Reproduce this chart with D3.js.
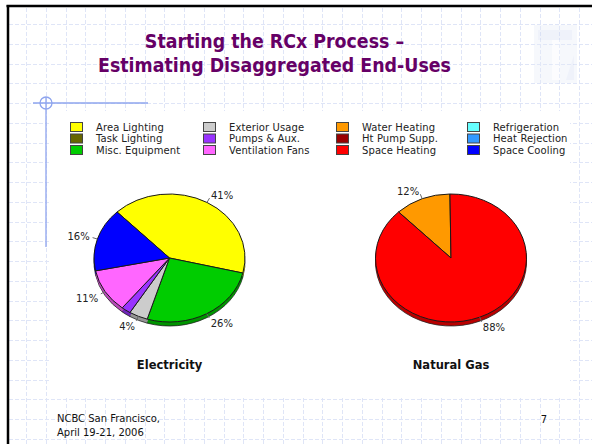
<!DOCTYPE html>
<html><head><meta charset="utf-8">
<script src="https://cdn.jsdelivr.net/npm/d3@7"></script>
<style>
html,body{margin:0;padding:0;background:#fff;overflow:hidden}
svg{display:block}
</style></head>
<body>
<script>
// ---- data ----
const titleLines = ["Starting the RCx Process \u2013", "Estimating Disaggregated End-Uses"];
const legendCats = ["Area Lighting","Task Lighting","Misc. Equipment",
  "Exterior Usage","Pumps & Aux.","Ventilation Fans",
  "Water Heating","Ht Pump Supp.","Space Heating",
  "Refrigeration","Heat Rejection","Space Cooling"];
const legendColors = ["#ffff00","#666600","#00cc00",
  "#cccccc","#9933ff","#ff66ff",
  "#ff9900","#990000","#ff0000",
  "#66ffff","#3399ff","#0000ff"];
const elecCats = ["Area Lighting","Misc. Equipment","Exterior Usage","Pumps & Aux.","Ventilation Fans","Space Cooling"];
const elecValues = [41, 26, 4, 2, 11, 16];
const gasCats = ["Water Heating","Space Heating"];
const gasValues = [12, 88];
const pieTitles = ["Electricity", "Natural Gas"];
const footerLines = ["NCBC San Francisco,", "April 19-21, 2006"];
const pageNumber = "7";

const W = 592, H = 444;
const svg = d3.select("body").append("svg").attr("width", W).attr("height", H);
const color = d3.scaleOrdinal().domain(legendCats).range(legendColors);

// background grid
const gridG = svg.append("g").attr("stroke", "#dfe5f7").attr("stroke-width", 1).attr("stroke-dasharray", "4,2");
const gx = d3.range(6.25 + 19.75, W, 19.75), gy = d3.range(4.25 + 19.75, H, 19.75);
gridG.selectAll("line.v").data(gx).join("line").attr("x1", d => Math.round(d) + 0.5).attr("x2", d => Math.round(d) + 0.5).attr("y1", 8).attr("y2", H);
gridG.selectAll("line.h").data(gy).join("line").attr("y1", d => Math.round(d) + 0.5).attr("y2", d => Math.round(d) + 0.5).attr("x1", 9).attr("x2", W);

// chart image white area
svg.append("rect").attr("x", 50).attr("y", 111).attr("width", 520).attr("height", 285).attr("fill", "#fff");

// slide border
svg.append("rect").attr("x", 0).attr("y", 0).attr("width", W).attr("height", 5).attr("fill", "#fff");
svg.append("rect").attr("x", 0).attr("y", 0).attr("width", 6.5).attr("height", H).attr("fill", "#fff");
svg.append("line").attr("x1", 6.5).attr("x2", W).attr("y1", 6).attr("y2", 6).attr("stroke", "#000").attr("stroke-width", 2.5);
svg.append("line").attr("x1", 8).attr("x2", 8).attr("y1", 5).attr("y2", H).attr("stroke", "#000").attr("stroke-width", 2.5);

// logo (faded)
const logo = svg.append("g").attr("opacity", 0.35);
logo.append("rect").attr("x", 534).attr("y", 25).attr("width", 43).attr("height", 58).attr("fill", "#e6ecf8");
logo.append("rect").attr("x", 538).attr("y", 30).attr("width", 34).attr("height", 10).attr("fill", "#d2dcf3");
logo.append("rect").attr("x", 552).attr("y", 40).attr("width", 8).attr("height", 40).attr("fill", "#f7f9fe");
logo.append("path").attr("d", "M566,80 L574,55 L574,80 Z").attr("fill", "#d2dcf3");

// blue decoration
const deco = svg.append("g").attr("stroke", "#8ea4ee").attr("stroke-width", 1.3).attr("fill", "none");
deco.append("line").attr("x1", 33).attr("x2", 148).attr("y1", 103).attr("y2", 103);
deco.append("line").attr("x1", 46).attr("x2", 46).attr("y1", 97).attr("y2", 247);
deco.append("circle").attr("cx", 46).attr("cy", 103).attr("r", 6);

// title
function fitWidth(sel, target) {
  const w = sel.node().getComputedTextLength();
  const fs = parseFloat(sel.attr("font-size"));
  sel.attr("font-size", (fs * target / w).toFixed(2));
}
const title = svg.append("g").attr("fill", "#660066").attr("font-weight", "bold")
  .attr("font-family", "'DejaVu Sans Condensed','DejaVu Sans',sans-serif").style("font-stretch", "condensed")
  .attr("text-anchor", "middle");
const t2 = title.append("text").attr("x", 274.5).attr("y", 72).attr("font-size", 20).text(titleLines[1]);
fitWidth(t2, 353);
title.append("text").attr("x", 274.5).attr("y", 48).attr("font-size", t2.attr("font-size")).text(titleLines[0]);

// legend
const legG = svg.append("g").attr("font-family", "'DejaVu Sans',sans-serif").attr("font-size", 10).attr("fill", "#222");
const colX = [70, 203, 336, 467], rowY = [122, 133.5, 145];
legendCats.forEach((c, i) => {
  const col = Math.floor(i / 3), row = i % 3;
  legG.append("rect").attr("x", colX[col] + 0.5).attr("y", rowY[row] + 0.5).attr("width", 12).attr("height", 9)
    .attr("fill", color(c)).attr("stroke", "#444").attr("stroke-width", 1);
  legG.append("text").attr("x", colX[col] + 26).attr("y", rowY[row] + 8.5).style("letter-spacing", "0.1px").text(c);
});

// pies
const rx = 75.5, ry = 64, depth = 4;
const deg = Math.PI / 180;
const pie = d3.pie().sort(null).value(d => d.v).startAngle(-44 * deg).endAngle(316 * deg);
const arc = d3.arc().innerRadius(0).outerRadius(rx);

function drawPie(cats, vals, cx, cy, titleText) {
  const arcs = pie(vals.map((v, i) => ({ cat: cats[i], v })));
  const total = d3.sum(vals);
  const g = svg.append("g").attr("transform", `translate(${cx},${cy})`);
  const side = g.append("g").attr("transform", `translate(0,${depth}) scale(1,${ry / rx})`);
  side.selectAll("path").data(arcs).join("path").attr("d", arc)
    .attr("fill", d => d3.color(color(d.data.cat)).darker(0.9))
    .attr("stroke", "#222").attr("stroke-width", 0.8).attr("vector-effect", "non-scaling-stroke");
  const mid = g.append("g");
  for (let k = 1; k < depth; k++) {
    mid.append("g").attr("transform", `translate(0,${k}) scale(1,${ry / rx})`)
      .selectAll("path").data(arcs).join("path").attr("d", arc)
      .attr("fill", d => d3.color(color(d.data.cat)).darker(0.9));
  }
  const top = g.append("g").attr("transform", `scale(1,${ry / rx})`);
  top.selectAll("path").data(arcs).join("path").attr("d", arc)
    .attr("fill", d => color(d.data.cat))
    .attr("stroke", "#1a1a1a").attr("stroke-width", 1).attr("vector-effect", "non-scaling-stroke");
  const lab = g.append("g").attr("font-family", "'DejaVu Sans',sans-serif").attr("font-size", 10).attr("fill", "#222");
  arcs.filter(d => d.data.v / total >= 0.03).forEach(d => {
    const m = (d.startAngle + d.endAngle) / 2;
    const s = Math.sin(m), c = Math.cos(m);
    lab.append("line").attr("x1", rx * s).attr("y1", -ry * c).attr("x2", (rx + 5) * s).attr("y2", -(ry + 5) * c)
      .attr("stroke", "#666").attr("stroke-width", 1);
    lab.append("text").attr("x", (rx + 8) * s).attr("y", -(ry + 8) * c + (c < 0 ? 3 : 0)).attr("dy", "0.35em")
      .attr("text-anchor", s >= 0 ? "start" : "end")
      .text(Math.round(d.data.v / total * 100) + "%");
  });
  svg.append("text").attr("x", cx).attr("y", 369).attr("text-anchor", "middle")
    .attr("font-family", "'DejaVu Sans',sans-serif").attr("font-weight", "bold").attr("font-size", 11.5)
    .attr("fill", "#111").text(titleText);
}
drawPie(elecCats, elecValues, 169.5, 258, pieTitles[0]);
drawPie(gasCats, gasValues, 451, 258, pieTitles[1]);

// footer
const foot = svg.append("g").attr("font-family", "'DejaVu Sans Condensed','DejaVu Sans',sans-serif")
  .style("font-stretch", "condensed").attr("fill", "#111");
const f1 = foot.append("text").attr("x", 57).attr("y", 422).attr("font-size", 11).text(footerLines[0]);
fitWidth(f1, 103);
foot.append("text").attr("x", 57).attr("y", 436).attr("font-size", f1.attr("font-size")).text(footerLines[1]);
foot.append("text").attr("x", 544).attr("y", 423).attr("text-anchor", "middle").attr("font-size", f1.attr("font-size")).text(pageNumber);
</script>
</body></html>
